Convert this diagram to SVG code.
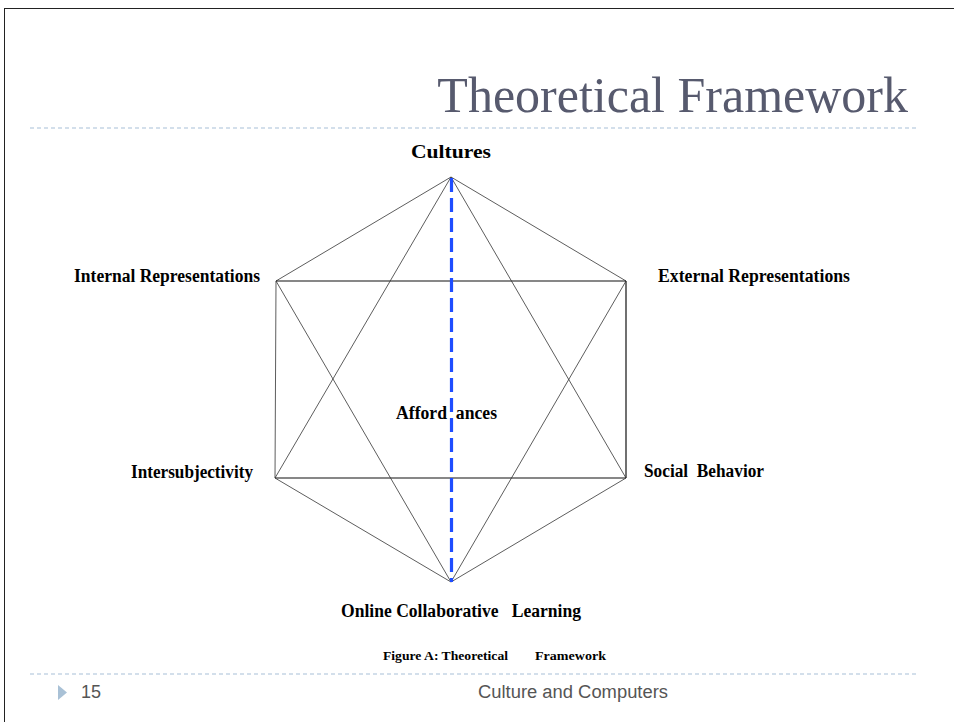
<svg xmlns="http://www.w3.org/2000/svg" width="954" height="722" viewBox="0 0 954 722">
<style>
.lbl{font-family:"Liberation Serif","Times New Roman",serif;font-weight:bold;font-size:18px;fill:#000}
.ln{stroke:#333;stroke-width:0.8;fill:none}
.lnb{stroke:#111;stroke-width:1.2;fill:none}
.sep{stroke:#A7C0D8;stroke-width:1.2;stroke-dasharray:4 3}
</style>
<rect x="0" y="0" width="954" height="722" fill="#fff"/>
<rect x="4.5" y="8.5" width="960" height="730" fill="none" stroke="#222" stroke-width="1"/>
<text x="908" y="112" text-anchor="end" font-family="'Liberation Serif','Times New Roman',serif" font-size="50" fill="#575A6E">Theoretical Framework</text>
<line class="sep" x1="30" y1="128" x2="918" y2="128"/>
<g id="connectors">
<line class="ln" x1="451" y1="177" x2="276" y2="281"/>
<line class="ln" x1="451" y1="177" x2="626" y2="281"/>
<line class="lnb" x1="276" y1="281" x2="626" y2="281"/>
<line class="ln" x1="276" y1="281" x2="275" y2="478"/>
<line class="lnb" x1="626" y1="281" x2="626" y2="478"/>
<line class="lnb" x1="275" y1="478" x2="626" y2="478"/>
<line class="ln" x1="275" y1="478" x2="451" y2="582"/>
<line class="ln" x1="626" y1="478" x2="451" y2="582"/>
<line class="ln" x1="451" y1="177" x2="275" y2="478"/>
<line class="ln" x1="451" y1="177" x2="626" y2="478"/>
<line class="ln" x1="276" y1="281" x2="451" y2="582"/>
<line class="ln" x1="626" y1="281" x2="451" y2="582"/>
<line x1="451.5" y1="178" x2="451.5" y2="582" stroke="#1F4DFF" stroke-width="3.2" stroke-dasharray="14 6"/>
</g>
<g id="n-cultures"><text class="lbl" x="411" y="158" textLength="80" lengthAdjust="spacingAndGlyphs">Cultures</text></g>
<g id="n-internal"><text class="lbl" x="74" y="282" textLength="186" lengthAdjust="spacingAndGlyphs">Internal Representations</text></g>
<g id="n-external"><text class="lbl" x="658" y="282" textLength="192" lengthAdjust="spacingAndGlyphs">External Representations</text></g>
<g id="n-intersub"><text class="lbl" x="131" y="478" textLength="122" lengthAdjust="spacingAndGlyphs">Intersubjectivity</text></g>
<g id="n-social"><text class="lbl" x="644" y="477" textLength="120" lengthAdjust="spacingAndGlyphs" xml:space="preserve">Social  Behavior</text></g>
<g id="n-affordances"><text class="lbl" x="396" y="419" textLength="101" lengthAdjust="spacingAndGlyphs" xml:space="preserve">Afford  ances</text></g>
<g id="n-online"><text class="lbl" x="341" y="617" textLength="240" lengthAdjust="spacingAndGlyphs" xml:space="preserve">Online Collaborative   Learning</text></g>
<text x="383" y="660" font-family="'Liberation Serif',serif" font-weight="bold" font-size="12.5" textLength="125" lengthAdjust="spacingAndGlyphs">Figure A: Theoretical</text>
<text x="535" y="660" font-family="'Liberation Serif',serif" font-weight="bold" font-size="12.5" textLength="71" lengthAdjust="spacingAndGlyphs">Framework</text>
<line class="sep" x1="30" y1="674" x2="918" y2="674"/>
<polygon points="58,685 67,692.5 58,700" fill="#A9C1D6"/>
<text x="81" y="698" font-family="'Liberation Sans',Arial,sans-serif" font-size="18" fill="#555">15</text>
<text x="478" y="698" textLength="190" lengthAdjust="spacingAndGlyphs" font-family="'Liberation Sans',Arial,sans-serif" font-size="18" fill="#555">Culture and Computers</text>
</svg>
